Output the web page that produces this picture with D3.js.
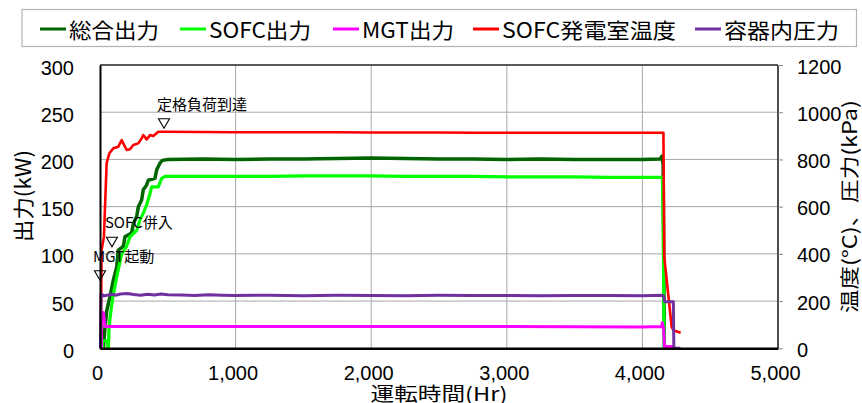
<!DOCTYPE html>
<html>
<head>
<meta charset="utf-8">
<script src="https://cdn.jsdelivr.net/npm/d3@7"></script>
<style>
  body { margin: 0; background: #fff; }
  text { fill: #000; }
</style>
</head>
<body>
<svg id="chart" width="862" height="403"></svg>
<script>
// ---- axis ticks ----
const hourTicks = [0, 1000, 2000, 3000, 4000, 5000];
const powerTicks = [0, 50, 100, 150, 200, 250, 300];
const tempTicks = [0, 200, 400, 600, 800, 1000, 1200];

// ---- series (hours, value) ----
// 総合出力 (kW)
const totalHours = [0, 25, 35, 50, 74, 98, 123, 135, 172, 184, 233, 246, 271, 283, 307, 319, 344, 356, 405, 418, 442, 460, 500,
  750, 1000, 1250, 1500, 1750, 2000, 2250, 2500, 2750, 3000, 3250, 3500, 3750, 4000, 4130, 4145, 4150, 4153, 4162];
const totalKW = [0, 0, 19, 40, 55, 72, 86, 104, 108, 118, 122, 132, 140, 150, 157, 168, 173, 178, 180, 189, 196, 199, 200,
  200.5, 200, 200.5, 200.5, 201, 201.5, 201, 200.5, 200.5, 200, 200.5, 200, 200, 200, 200.5, 203.5, 197, 195, 0];

// SOFC出力 (kW)
const sofcHours = [0, 18, 20, 56, 58, 62, 66, 75, 90, 105, 130, 160, 196, 221, 271, 295, 319, 344, 369, 381, 430, 455, 480,
  750, 1000, 1250, 1500, 1750, 2000, 2250, 2500, 2750, 3000, 3250, 3500, 3750, 4000, 4148, 4154, 4158, 4162, 4166];
const sofcKW = [0, 0, 8, 8, 0, 0, 20, 33, 50, 62, 80, 100, 108, 118, 125, 136, 143, 152, 164, 171, 171, 180, 182,
  182, 182, 182, 182.5, 182.5, 182.5, 182, 182, 182, 181.5, 181.5, 181.5, 181, 181, 181, 120, 40, 0, 0];

// MGT出力 (kW)
const mgtHours = [0, 10, 12, 25, 32, 38, 50, 500, 1000, 1500, 2000, 2500, 3000, 3500, 4000, 4142, 4147, 4152, 4156, 4163, 4228, 4230];
const mgtKW = [0, 0, 36, 38, 30, 23, 23, 23, 23, 23, 23.2, 23, 23, 22.8, 22.6, 23, 27, 22, 22, 2, 2, 0];

// SOFC発電室温度 (°C)
const tempHours = [0, 5, 12, 29, 49, 69, 98, 135, 160, 184, 197, 221, 246, 282, 307, 319, 344, 369, 393, 430, 467,
  750, 1000, 1250, 1500, 1750, 2000, 2250, 2500, 2750, 3000, 3250, 3500, 3750, 4000, 4150, 4155, 4161, 4216, 4228, 4250, 4282];
const tempC = [0, 0, 416, 473, 784, 826, 847, 854, 882, 854, 840, 843, 861, 868, 889, 903, 885, 903, 899, 917, 917,
  916, 915, 915, 915, 915, 914, 914, 914, 913, 913, 913, 913, 913, 913, 913, 913, 388, 90, 78, 72, 66];

// 容器内圧力 (kPa)
const pressHours = [0, 3, 8, 30, 60, 90, 120, 150, 200, 250, 300, 350, 400, 450, 500, 600, 700, 800, 900, 1000,
  1250, 1500, 1750, 2000, 2250, 2500, 2750, 3000, 3250, 3500, 3750, 4000, 4140, 4155, 4165, 4228, 4232, 4280];
const pressKPa = [0, 0, 230, 222, 226, 229, 225, 230, 232, 228, 225, 229, 226, 230, 227, 226, 224, 227, 225, 224,
  225, 223, 225, 224, 223, 225, 224, 224, 223, 224, 224, 223, 225, 223, 197, 197, 0, 0];

// ---- legend / annotation text ----
const legendLabels = ["総合出力", "SOFC出力", "MGT出力", "SOFC発電室温度", "容器内圧力"];
const seriesColors = ["#006400", "#00ff00", "#ff00ff", "#ff0000", "#7030a0"];
const annotationLabels = ["MGT起動", "SOFC併入", "定格負荷到達"];
const annotationHours = [0, 88, 472];
const annotationKW = [72, 107.5, 233];

const xTitle = "運転時間(Hr)";
const yLeftTitle = "出力(kW)";
const yRightTitle = "温度(°C)、圧力(kPa)";

// ---- layout ----
const plot = { left: 100, right: 778, top: 65, bottom: 348.3 };
const latin = "'Liberation Sans', Arial, sans-serif";
const cjk = "'Noto Sans CJK JP', 'Noto Sans', sans-serif";

const svg = d3.select("#chart");

const x = d3.scaleLinear().domain([0, 5000]).range([plot.left, plot.right]);
const yL = d3.scaleLinear().domain([0, 300]).range([plot.bottom, plot.top]);
const yR = d3.scaleLinear().domain([0, 1200]).range([plot.bottom, plot.top]);

// grid
const grid = svg.append("g").attr("stroke", "#a8a8a8").attr("stroke-width", 1);
grid.selectAll("line.h").data(powerTicks.filter(d => d > 0 && d < 300)).join("line")
  .attr("x1", plot.left).attr("x2", plot.right)
  .attr("y1", d => yL(d)).attr("y2", d => yL(d));
grid.selectAll("line.v").data(hourTicks.filter(d => d > 0 && d < 5000)).join("line")
  .attr("x1", d => x(d)).attr("x2", d => x(d))
  .attr("y1", plot.top).attr("y2", plot.bottom);

// frame: top and right
svg.append("line").attr("x1", plot.left).attr("x2", plot.right).attr("y1", plot.top).attr("y2", plot.top)
  .attr("stroke", "#222").attr("stroke-width", 1.4);
svg.append("line").attr("x1", plot.right).attr("x2", plot.right).attr("y1", plot.top).attr("y2", plot.bottom)
  .attr("stroke", "#222").attr("stroke-width", 1.6);

// series lines
const seriesData = [
  [totalHours, totalKW, yL, 3.5],
  [sofcHours, sofcKW, yL, 3.2],
  [mgtHours, mgtKW, yL, 3],
  [tempHours, tempC, yR, 2.6],
  [pressHours, pressKPa, yR, 3]
];
seriesData.forEach(([hrs, vals, ys, sw], i) => {
  const pts = hrs.map((h, k) => [h, vals[k]]);
  svg.append("path")
    .datum(pts)
    .attr("fill", "none")
    .attr("stroke", seriesColors[i])
    .attr("stroke-width", sw)
    .attr("stroke-linejoin", "round")
    .attr("d", d3.line().x(d => x(d[0])).y(d => ys(d[1])));
});

// axes
const xAxis = svg.append("g").attr("transform", `translate(0,${plot.bottom})`)
  .call(d3.axisBottom(x).tickValues(hourTicks).tickSize(0).tickPadding(0).tickFormat(d3.format(",")));
xAxis.select(".domain").attr("stroke", "#000").attr("stroke-width", 2.6);
xAxis.selectAll("text").attr("font-family", latin).attr("font-size", 20)
  .attr("dx", -3).attr("dy", 0).attr("y", 32);

const yAxisL = svg.append("g").attr("transform", `translate(${plot.left},0)`)
  .call(d3.axisLeft(yL).tickValues(powerTicks).tickSize(0).tickPadding(26).tickFormat(d3.format("d")));
yAxisL.select(".domain").attr("stroke", "#000").attr("stroke-width", 2);
yAxisL.selectAll("text").attr("font-family", latin).attr("font-size", 20).attr("dy", "0.45em");

const yAxisR = svg.append("g").attr("transform", `translate(${plot.right},0)`)
  .call(d3.axisRight(yR).tickValues(tempTicks).tickSize(5).tickPadding(14).tickFormat(d3.format("d")));
yAxisR.select(".domain").remove();
yAxisR.selectAll("line").attr("stroke", "#888").attr("stroke-width", 1);
yAxisR.selectAll("text").attr("font-family", latin).attr("font-size", 20).attr("dy", "0.4em");

// axis titles
svg.append("text").attr("x", x(2500)).attr("y", 400.5)
  .attr("text-anchor", "middle").attr("font-family", cjk).attr("font-size", 19)
  .attr("textLength", 137).attr("lengthAdjust", "spacingAndGlyphs").text(xTitle);
svg.append("text").attr("transform", `translate(31,196) rotate(-90)`)
  .attr("text-anchor", "middle").attr("font-family", cjk).attr("font-size", 21)
  .attr("textLength", 92).attr("lengthAdjust", "spacingAndGlyphs").text(yLeftTitle);
svg.append("text").attr("transform", `translate(857,206.5) rotate(-90)`)
  .attr("text-anchor", "middle").attr("font-family", cjk).attr("font-size", 19.5)
  .attr("textLength", 213).attr("lengthAdjust", "spacingAndGlyphs").text(yRightTitle);

// event annotations: open triangle pointing down + label
annotationLabels.forEach((lab, i) => {
  const tx = x(annotationHours[i]);
  const ty = yL(annotationKW[i]);
  svg.append("path")
    .attr("d", `M${tx},${ty} L${tx - 5.5},${ty - 9.5} L${tx + 5.5},${ty - 9.5} Z`)
    .attr("fill", "none").attr("stroke", "#000").attr("stroke-width", 1.1);
  svg.append("text").attr("x", tx - 7).attr("y", ty - 18.5)
    .attr("font-family", cjk).attr("font-size", 15).text(lab);
});

// legend
svg.append("rect").attr("x", 22).attr("y", 9.5).attr("width", 834.5).attr("height", 37)
  .attr("fill", "#fff").attr("stroke", "#b4b4b4").attr("stroke-width", 1.2);
const legendX = [40, 180, 333, 473, 695];
const legendTextW = [90, 102, 92, 174, 115];
legendLabels.forEach((lab, i) => {
  const lx = legendX[i];
  svg.append("line").attr("x1", lx).attr("x2", lx + 26).attr("y1", 29).attr("y2", 29)
    .attr("stroke", seriesColors[i]).attr("stroke-width", 3);
  svg.append("text").attr("x", lx + 29).attr("y", 37.5)
    .attr("font-family", cjk).attr("font-size", 21)
    .attr("textLength", legendTextW[i]).attr("lengthAdjust", "spacingAndGlyphs").text(lab);
});
</script>
</body>
</html>
